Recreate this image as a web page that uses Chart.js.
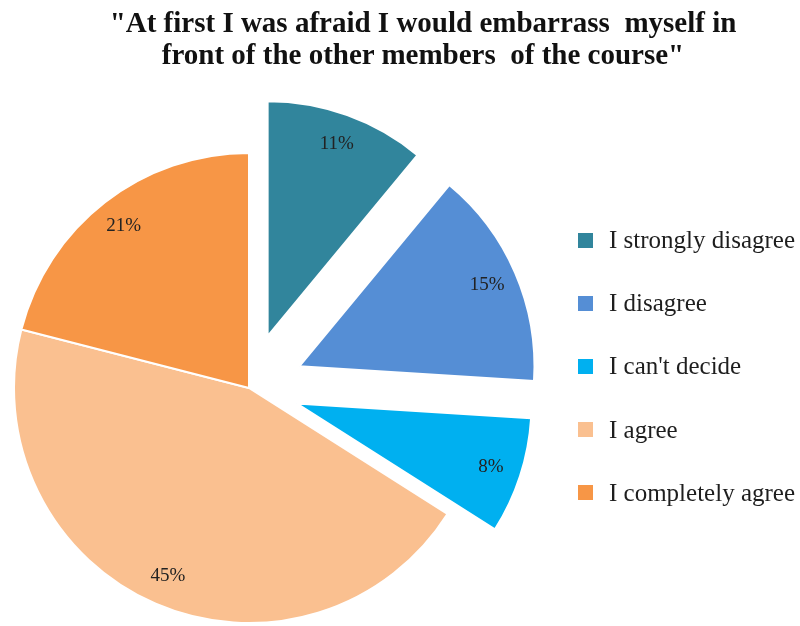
<!DOCTYPE html>
<html>
<head>
<meta charset="utf-8">
<title>Survey pie</title>
<script src="https://cdn.jsdelivr.net/npm/chart.js@4.4.1/dist/chart.umd.min.js"></script>
<style>
  html, body { margin: 0; padding: 0; background: #fff; }
  #wrap { position: relative; width: 800px; height: 626px; overflow: hidden; }
  #chart { position: absolute; left: 0; top: 0; }
  #title {
    position: absolute; left: 46px; top: 6px; width: 754px;
    text-align: center; color: #111;
    font: bold 29px/32px "Liberation Serif", "Times New Roman", serif;
  }
  .item {
    position: absolute; left: 578px; height: 30px;
    display: flex; align-items: center; white-space: nowrap;
    font: 25px "Liberation Serif", "Times New Roman", serif; color: #1e1e1e;
  }
  .item .box { width: 15px; height: 15px; margin-right: 16px; flex: none; }
</style>
</head>
<body>
<div id="wrap">
  <canvas id="chart" width="800" height="626"></canvas>
  <div id="title">"At first I was afraid I would embarrass&nbsp; myself in<br>front of the other members&nbsp; of the course"</div>
  <div id="legend"></div>
</div>
<script>
// 数据
const labels = ["I strongly disagree", "I disagree", "I can't decide", "I agree", "I completely agree"];
const values = [11, 15, 8, 45, 21];
const colors = ["#31859C", "#558ED5", "#00B0F0", "#FAC090", "#F79646"];
// how far each slice is pulled out (px)
const explode = [55, 55, 50, 0, 0];

// move the exploded slices along their middle angle
const explodePlugin = {
    id: "explode",
    afterDatasetsUpdate(chart) {
        chart.getDatasetMeta(0).data.forEach((arc, i) => {
            const mid = (arc.startAngle + arc.endAngle) / 2;
            arc.x += Math.cos(mid) * explode[i];
            arc.y += Math.sin(mid) * explode[i];
        });
    }
};

// percentage text inside each slice
const pctLabels = {
    id: "pctLabels",
    afterDatasetsDraw(chart) {
        const ctx = chart.ctx;
        ctx.save();
        ctx.font = '19px "Liberation Serif", "Times New Roman", serif';
        ctx.fillStyle = "#222222";
        ctx.textAlign = "center";
        ctx.textBaseline = "middle";
        chart.getDatasetMeta(0).data.forEach((arc, i) => {
            const mid = (arc.startAngle + arc.endAngle) / 2;
            const r = arc.outerRadius * 0.87;
            ctx.fillText(values[i] + "%", arc.x + Math.cos(mid) * r, arc.y + Math.sin(mid) * r);
        });
        ctx.restore();
    }
};

new Chart(document.getElementById("chart"), {
    type: "pie",
    data: {
        labels: labels,
        datasets: [{
            data: values,
            backgroundColor: colors,
            borderColor: "#ffffff",
            borderWidth: 2
        }]
    },
    options: {
        responsive: false,
        animation: false,
        events: [],
        radius: 235,
        layout: { padding: { top: 150, right: 302, bottom: 0, left: 0 } },
        plugins: {
            legend: { display: false },
            title: { display: false },
            tooltip: { enabled: false }
        }
    },
    plugins: [explodePlugin, pctLabels]
});

// legend on the right
const legend = document.getElementById("legend");
labels.forEach((name, i) => {
    const row = document.createElement("div");
    row.className = "item";
    row.style.top = (225 + i * 63.2) + "px";
    const box = document.createElement("span");
    box.className = "box";
    box.style.background = colors[i];
    const txt = document.createElement("span");
    txt.textContent = name;
    row.appendChild(box);
    row.appendChild(txt);
    legend.appendChild(row);
});
</script>
</body>
</html>
